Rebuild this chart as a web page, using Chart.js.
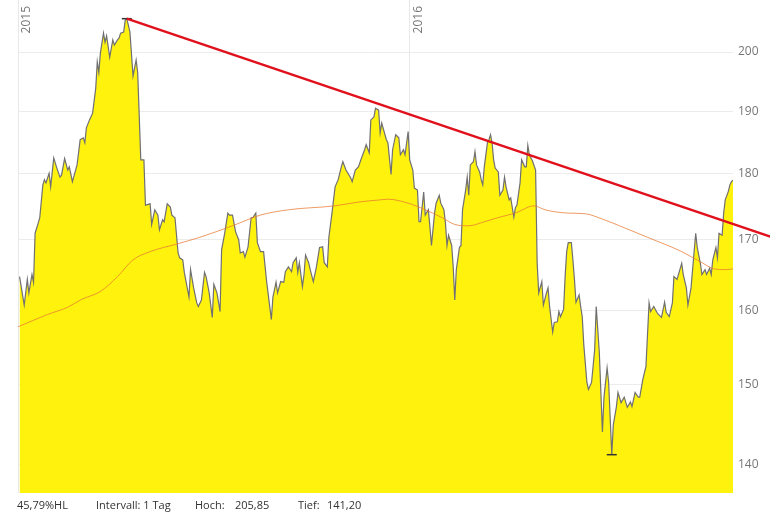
<!DOCTYPE html>
<html>
<head>
<meta charset="utf-8">
<script src="https://cdn.jsdelivr.net/npm/chart.js@4"></script>
<style>
  body { margin: 0; background: #fff; }
</style>
</head>
<body>
<canvas id="chart" width="770" height="522"></canvas>
<script>
// trading day index since start of 2015 and closing price
const days = [1,4,6,7,9,10,11,13,14,16,17,18,20,21,23,25,27,28,30,32,33,35,38,40,42,43,44,46,48,50,
  51,52,53,55,56,57,59,61,62,64,65,66,68,69,70,72,74,76,77,79,81,82,85,86,88,90,91,93,94,96,
  98,99,101,103,104,106,107,110,111,113,115,116,118,120,121,123,125,126,128,130,131,133,135,136,138,140,142,143,145,146,
  148,150,151,153,154,156,158,160,163,164,166,167,169,171,172,174,176,177,179,180,181,183,184,185,187,188,190,192,194,196,
  197,199,200,202,204,206,208,209,211,214,215,217,219,221,223,224,226,227,229,230,232,233,234,237,238,240,241,243,245,246,
  248,249,251,252,254,255,257,258,259,261,262,264,265,266,268,269,271,272,274,275,276,277,279,280,281,282,284,285,286,288,
  289,290,291,293,294,295,297,298,299,300,302,303,304,305,306,307,309,310,312,313,314,316,317,319,320,321,323,324,326,327,
  328,329,331,333,334,335,337,338,340,341,342,344,345,347,348,349,351,352,353,354,356,357,358,359,361,362,363,364,366,367,
  369,371,372,374,376,377,379,380,382,383,385,386,388,390,392,394,395,397,399,400,402,404,406,407,409,411,412,414,416,417,
  419,421,422,424,427,428,430,431,433,434,436,437,439,440,442,443,445,446,447,449,450,451,453,454,455,457,458,459,460];
const prices = [164.7,160.7,164.3,162.4,165.0,163.9,171.0,172.5,173.3,178.3,179.1,178.6,180.1,178.0,182.5,180.9,179.5,179.8,182.4,180.6,181.1,178.8,181.4,185.4,185.7,184.9,187.3,188.6,189.7,193.8,
  198.3,196.5,199.8,203.3,201.7,202.8,199.1,202.1,201.2,202.1,202.4,203.3,203.5,205.6,205.85,203.5,195.9,198.6,196.5,182.2,182.2,175.2,175.4,172.3,174.5,173.7,171.5,173.0,172.7,175.4,
  174.9,173.7,173.3,168.1,167.4,167.1,165.3,161.8,165.7,163.1,161.0,160.5,161.4,165.3,164.7,162.4,159.0,163.6,162.4,159.8,168.6,171.0,174.0,173.7,173.7,171.2,170.0,168.1,168.3,167.5,
  169.0,173.3,173.3,174.0,169.6,168.3,168.3,163.9,158.7,161.8,163.9,162.4,164.0,163.9,165.4,166.1,165.4,166.7,167.4,165.3,166.7,163.3,165.0,167.8,166.7,165.7,164.0,166.1,168.9,169.0,
  166.7,166.1,170.4,174.0,178.0,179.1,181.1,181.9,180.6,179.4,178.8,180.6,181.1,182.5,183.8,184.6,183.3,188.6,189.1,190.5,190.2,186.5,188.1,185.4,184.9,179.9,183.8,186.2,185.7,183.0,
  183.8,183.0,186.7,182.2,180.6,177.8,177.5,172.7,172.7,177.2,173.7,174.5,172.0,169.2,174.0,175.5,176.7,175.5,174.5,172.5,169.2,170.7,169.2,166.1,161.4,165.7,168.9,169.2,174.5,177.5,
  179.5,176.7,181.4,181.9,183.5,181.4,180.3,179.1,178.3,181.1,184.9,185.4,186.2,184.9,182.2,180.9,180.3,176.7,177.5,179.5,178.0,176.0,176.3,173.4,174.8,175.2,178.6,182.2,181.1,181.1,
  184.5,183.0,182.0,180.6,166.7,162.4,164.0,160.7,162.4,163.1,160.5,157.0,158.3,158.4,159.8,159.1,160.1,164.7,168.3,169.6,169.6,167.1,164.3,161.1,162.1,160.5,159.1,155.3,150.3,149.4,
  150.3,154.6,160.5,154.2,144.0,148.4,152.2,150.3,141.2,144.9,147.2,149.0,147.7,148.4,147.1,147.8,147.2,149.0,148.4,148.4,150.7,152.4,161.0,159.8,160.5,159.7,159.4,159.0,161.1,159.7,
  159.1,161.0,164.7,164.3,166.6,165.0,163.1,160.7,163.1,165.7,171.0,168.9,166.6,165.0,165.7,165.0,165.9,165.0,167.1,168.9,167.4,171.0,170.7,174.0,176.0,177.3,178.3,178.8,179.0];

// 200-day moving average
const maDays = [0,19,32,41,53,64,74,85,102,117,138,156,174,204,220,233,238,251,262,273,281,290,300,310,320,332,339,354,365,376,387,405,427,440,448,455,460];
const maValues = [157.7,159.4,160.4,161.5,162.6,164.7,167.1,168.3,169.4,170.4,172.1,173.7,174.5,175.1,175.7,176.0,176.1,175.5,174.5,173.3,172.3,172.1,172.7,173.4,174.0,175.1,174.5,174.0,173.9,173.1,172.1,170.4,168.3,166.7,165.8,165.7,165.8];

// trend line from the high
const trendDays = [70, 484];
const trendValues = [205.85, 170.5];

// high / low markers
const markDays = [70, 382];
const markValues = [205.85, 141.2];

const yTicks = [140, 150, 160, 170, 180, 190, 200];
const xTicks = [0, 252];
const xTickLabels = ['2015', '2016'];

const footer = [
  { text: '45,79%HL', x: 17 },
  { text: 'Intervall: 1 Tag', x: 96 },
  { text: 'Hoch:', x: 195 },
  { text: '205,85', x: 235 },
  { text: 'Tief:', x: 298 },
  { text: '141,20', x: 327 }
];

const pts = (xs, ys) => xs.map((x, i) => ({ x, y: ys[i] }));

const extras = {
  id: 'extras',
  afterDatasetsDraw(chart) {
    const ctx = chart.ctx;
    const xs = chart.scales.x;
    ctx.save();
    ctx.fillStyle = '#777';
    ctx.font = '12px "Open Sans", sans-serif';
    ctx.textAlign = 'right';
    ctx.textBaseline = 'alphabetic';
    xTicks.forEach((v, i) => {
      const px = xs.getPixelForValue(v);
      ctx.save();
      ctx.translate(px + 12, 6);
      ctx.rotate(-Math.PI / 2);
      ctx.fillText(xTickLabels[i], 0, 0);
      ctx.restore();
    });
    ctx.fillStyle = '#333';
    ctx.font = '11px "Open Sans", sans-serif';
    ctx.textAlign = 'left';
    ctx.textBaseline = 'middle';
    footer.forEach(f => ctx.fillText(f.text, f.x, 506));
    ctx.restore();
  }
};

new Chart(document.getElementById('chart'), {
  type: 'line',
  data: {
    datasets: [
      {
        data: pts(trendDays, trendValues),
        borderColor: '#e0111c',
        borderWidth: 2.5,
        pointRadius: 0,
        clip: false
      },
      {
        data: pts(markDays, markValues),
        showLine: false,
        pointStyle: 'line',
        pointRadius: 5,
        borderColor: '#333',
        borderWidth: 1.5
      },
      {
        data: pts(maDays, maValues),
        borderColor: 'rgba(232,120,50,0.75)',
        borderWidth: 1,
        pointRadius: 0,
        cubicInterpolationMode: 'monotone'
      },
      {
        data: pts(days, prices),
        borderColor: '#707070',
        borderWidth: 1.2,
        backgroundColor: 'rgba(255,241,0,0.95)',
        fill: 'start',
        pointRadius: 0,
        tension: 0
      }
    ]
  },
  options: {
    responsive: false,
    animation: false,
    layout: { autoPadding: false, padding: { left: 18, top: 0, right: 0, bottom: 0 } },
    plugins: { legend: { display: false }, tooltip: { enabled: false } },
    scales: {
      x: {
        type: 'linear',
        min: 0, max: 460,
        afterBuildTicks: s => { s.ticks = xTicks.map(v => ({ value: v })); },
        afterFit: s => { s.height = 29; s.paddingLeft = 0; s.paddingRight = 0; },
        ticks: { display: false },
        grid: { color: '#e8e8e8', drawTicks: false },
        border: { display: false }
      },
      y: {
        type: 'logarithmic',
        position: 'right',
        min: 136.6, max: 209.2,
        afterBuildTicks: s => { s.ticks = yTicks.map(v => ({ value: v })); },
        afterFit: s => { s.width = 37; s.paddingTop = 0; s.paddingBottom = 0; },
        ticks: {
          color: '#777',
          font: { family: '"Open Sans", sans-serif', size: 12 },
          padding: 5,
          callback: v => String(v)
        },
        grid: { color: '#ececec', drawTicks: false },
        border: { display: false }
      }
    }
  },
  plugins: [extras]
});
</script>
</body>
</html>
